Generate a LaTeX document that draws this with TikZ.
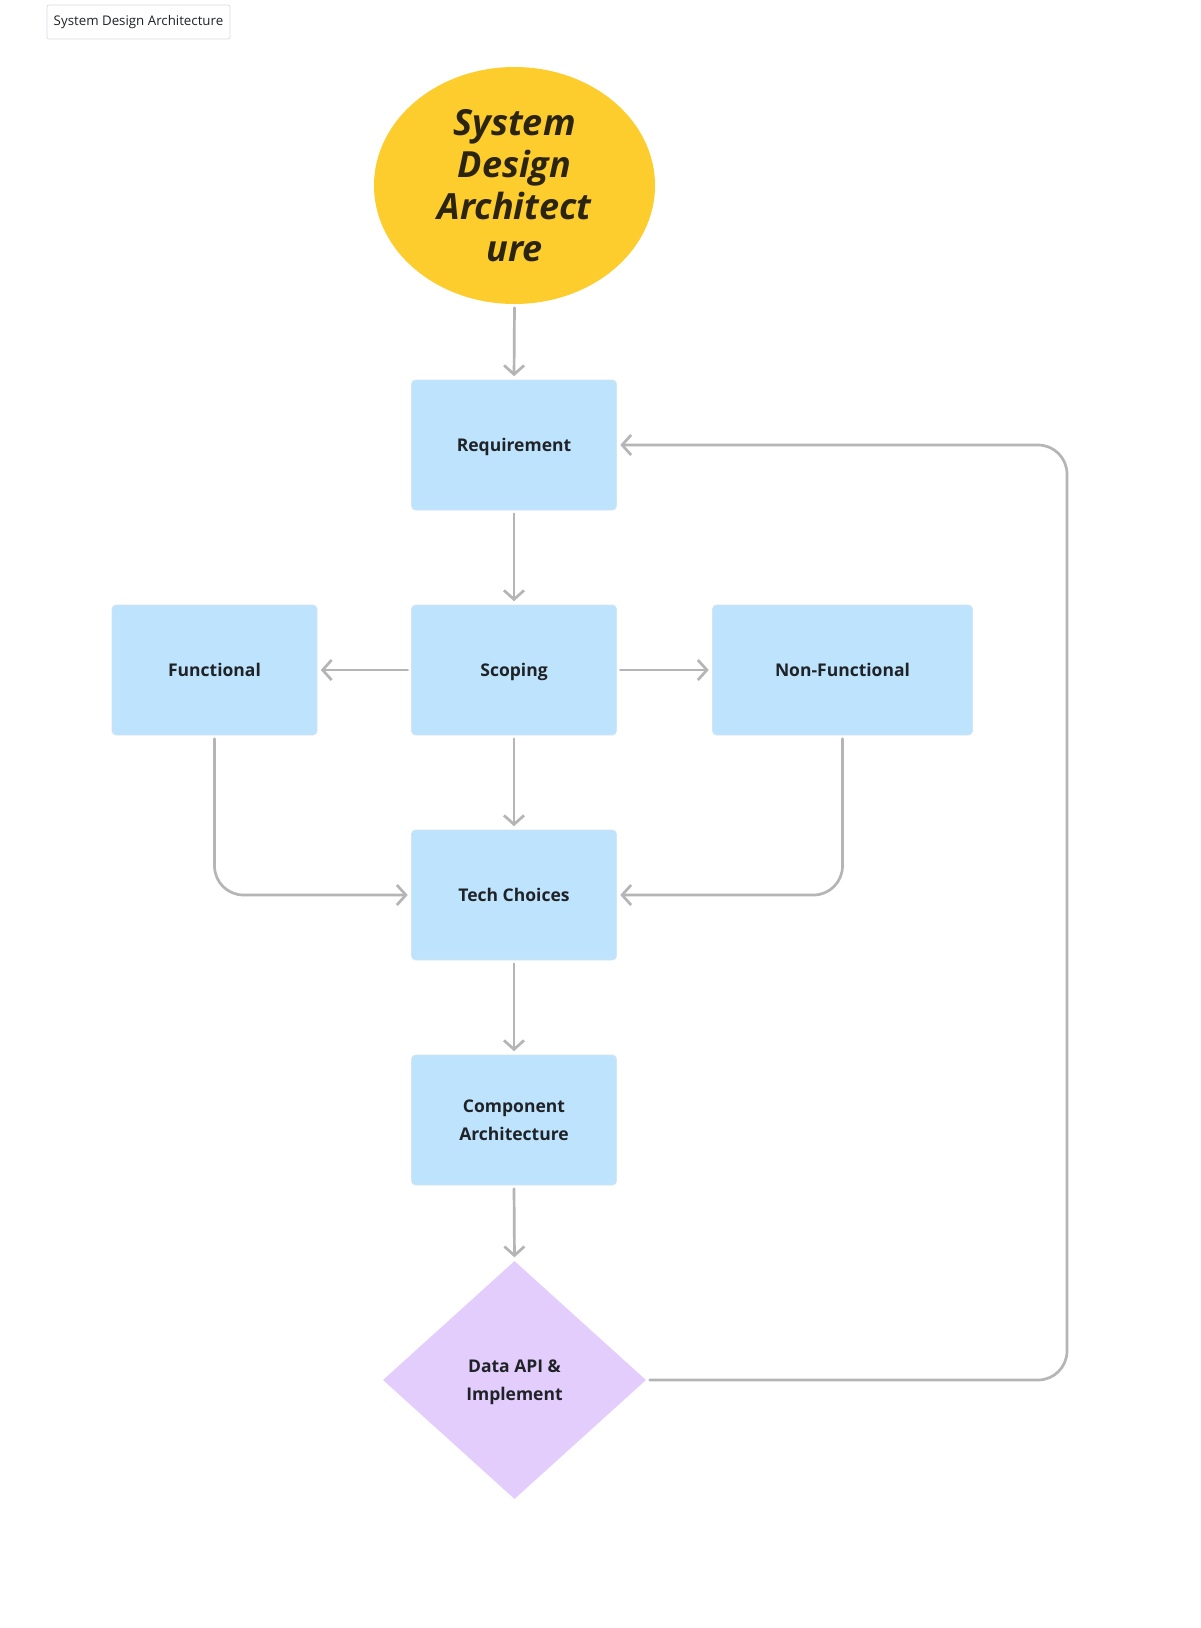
\documentclass[tikz,border=0pt]{standalone}
\usepackage{fontspec}
\setmainfont{Open Sans}
\usetikzlibrary{arrows.meta,shapes.geometric}
\definecolor{boxblue}{HTML}{BEE3FC}
\definecolor{lav}{HTML}{E3CDFC}
\definecolor{sun}{HTML}{FDCC2D}
\definecolor{arrgray}{HTML}{B5B5B5}
\definecolor{txt}{HTML}{1F2328}
\definecolor{hand}{HTML}{2B2410}
\definecolor{tbord}{HTML}{DEDAE6}
\tikzset{
  stepbox/.style={draw=boxblue!85!gray!60, line width=0.6pt, fill=boxblue, rounded corners=4pt,
    minimum width=205pt, minimum height=130pt, inner sep=0pt, text depth=0pt,
    font=\fontsize{17.5pt}{27.5pt}\selectfont\bfseries, text=txt, align=center},
  arr/.style={draw=arrgray, line width=2.7pt, line cap=round,
    -{Straight Barb[length=9pt,width=20pt,line width=2.7pt]},
    shorten >=3.5pt, shorten <=3.5pt, rounded corners=29pt},
}
\begin{document}
\begin{tikzpicture}[x=1pt,y=-1pt]
\useasboundingbox (0,0) rectangle (1200,1628);
\fill[white] (0,0) rectangle (1200,1628);
% title tag
\node[draw=tbord, line width=0.8pt, rounded corners=2pt, minimum width=183pt, minimum height=34pt,
  inner sep=0pt, font=\fontsize{13.3pt}{15pt}\selectfont, text=txt] (tag) at (138.5,22) {System Design Architecture};
% start ellipse
\node[ellipse, fill=sun, minimum width=281pt, minimum height=237pt, inner sep=0pt,
  align=center, text=hand, font=\fontsize{36pt}{42pt}\selectfont\itshape\bfseries] (ell) at (514.5,185.5)
  {System\\Design\\Architect\\ure};
\node[stepbox] (req) at (514,445) {Requirement};
\node[stepbox] (scp) at (514,670) {Scoping};
\node[stepbox] (fun) at (214.5,670) {Functional};
\node[stepbox, minimum width=260pt] (nfn) at (842.5,670) {Non-Functional};
\node[stepbox] (tech) at (514,895) {Tech Choices};
\node[stepbox] (comp) at (514,1120) {Component\\Architecture};
\node[diamond, fill=lav, minimum width=263pt, minimum height=238pt, inner sep=0pt, text depth=0pt,
  align=center, text=txt, font=\fontsize{17.5pt}{28pt}\selectfont\bfseries] (dia) at (514.5,1380)
  {Data API \&\\Implement};
\coordinate (loop) at (1067,445);
% connectors
\draw[arr] (ell.south) -- (req.north);
\draw[arr] (req.south) -- (scp.north);
\draw[arr] (scp.west) -- (fun.east);
\draw[arr] (scp.east) -- (nfn.west);
\draw[arr] (scp.south) -- (tech.north);
\draw[arr] (fun.south) |- (tech.west);
\draw[arr] (nfn.south) |- (tech.east);
\draw[arr] (tech.south) -- (comp.north);
\draw[arr] (comp.south) -- (dia.north);
\draw[arr] (dia.east) -- (dia.east -| loop) -- (loop) -- (req.east);
\end{tikzpicture}
\end{document}
